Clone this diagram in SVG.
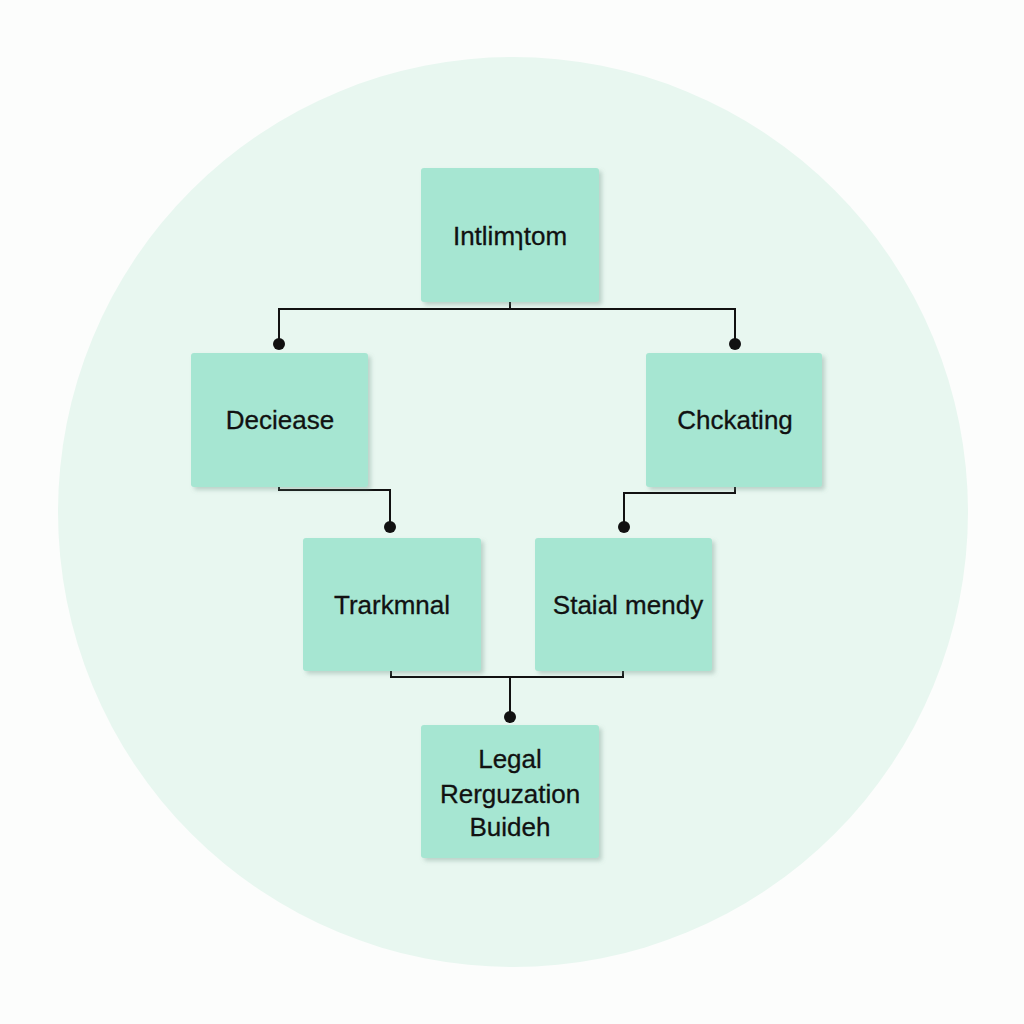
<svg xmlns="http://www.w3.org/2000/svg" width="1024" height="1024" viewBox="0 0 1024 1024">
<defs>
<style>
.box{fill:#a6e6d2;}
.lbl{font-family:"Liberation Sans",Arial,sans-serif;font-size:26px;fill:#111;stroke:#111;stroke-width:0.3;text-anchor:middle;}
.con{fill:none;stroke:#111;stroke-width:2;}
.dot{fill:#111;}
</style>
<filter id="sh" x="-10%" y="-10%" width="125%" height="125%">
<feDropShadow dx="3" dy="3" stdDeviation="2" flood-color="#6a8f82" flood-opacity="0.35"/>
</filter>
</defs>
<rect width="1024" height="1024" fill="#fcfdfc"/>
<circle cx="513" cy="512" r="455" fill="#e8f7f0"/>
<g id="connectors">
<path class="con" d="M510 302 V309 M279 344 V309 H735 V344"/>
<path class="con" d="M279 487 V490 H390 V527"/>
<path class="con" d="M735 487 V493 H624 V527"/>
<path class="con" d="M391 671 V677 H623 V671 M510 677 V717"/>
<circle class="dot" cx="279" cy="344" r="6"/>
<circle class="dot" cx="735" cy="344" r="6"/>
<circle class="dot" cx="390" cy="527" r="6"/>
<circle class="dot" cx="624" cy="527" r="6"/>
<circle class="dot" cx="510" cy="717" r="6"/>
</g>
<g id="n1"><rect class="box" filter="url(#sh)" x="421" y="168" width="178" height="134" rx="3"/><text class="lbl" x="510" y="245">Intlimɿtom</text></g>
<g id="n2"><rect class="box" filter="url(#sh)" x="191" y="353" width="177" height="134" rx="3"/><text class="lbl" x="280" y="429">Deciease</text></g>
<g id="n3"><rect class="box" filter="url(#sh)" x="646" y="353" width="176" height="134" rx="3"/><text class="lbl" x="735" y="429">Chckating</text></g>
<g id="n4"><rect class="box" filter="url(#sh)" x="303" y="538" width="178" height="133" rx="3"/><text class="lbl" x="392" y="614">Trarkmnal</text></g>
<g id="n5"><rect class="box" filter="url(#sh)" x="535" y="538" width="177" height="133" rx="3"/><text class="lbl" x="628" y="614">Staial mendy</text></g>
<g id="n6"><rect class="box" filter="url(#sh)" x="421" y="725" width="178" height="133" rx="3"/><text class="lbl" x="510" y="768">Legal</text><text class="lbl" x="510" y="803">Rerguzation</text><text class="lbl" x="510" y="836">Buideh</text></g>
</svg>
